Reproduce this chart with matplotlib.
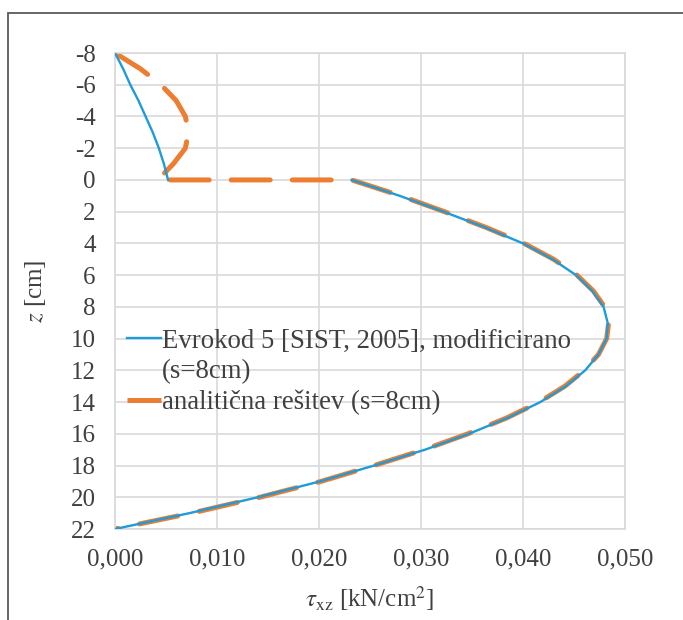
import numpy as np
import matplotlib
matplotlib.use("Agg")
import matplotlib.pyplot as plt
from matplotlib.lines import Line2D
from matplotlib.patches import Rectangle
from matplotlib.ticker import FuncFormatter, MultipleLocator

plt.rcParams['font.family'] = ['Liberation Serif', 'DejaVu Serif']
plt.rcParams['mathtext.fontset'] = 'stix'
plt.rcParams['axes.unicode_minus'] = False

# depth z [cm]; nan breaks the line between the two parts
z_ec5 = [-8, -7, -6, -5, -4, -3, -2, -1, 0, np.nan,
         0, 1, 2, 3, 4, 5, 6, 7, 8, 9, 10, 11, 12, 13, 14, 15, 16, 17, 18, 19, 20, 21, 22]
tau_ec5 = [0.0, 0.0008, 0.0015, 0.0023, 0.0030, 0.0037, 0.0043, 0.0048, 0.0052, np.nan,
           0.0232, 0.0279, 0.0322, 0.0363, 0.0400, 0.0429, 0.0452, 0.0468, 0.0479, 0.0483,
           0.0482, 0.0474, 0.0461, 0.0442, 0.0417, 0.0385, 0.0347, 0.0304, 0.0254, 0.0201,
           0.0140, 0.0073, 0.0]

z_anal = [-8, -7, -6, -5, -4, -3, -2, -1, 0,
          0, 1, 2, 3, 4, 5, 6, 7, 8, 9, 10, 11, 12, 13, 14, 15, 16, 17, 18, 19, 20, 21, 22]
tau_anal = [0.0, 0.0025, 0.0045, 0.0060, 0.0069, 0.0072, 0.0069, 0.0057, 0.0042,
            0.0232, 0.0280, 0.0323, 0.0364, 0.0401, 0.0430, 0.0453, 0.0469, 0.0480, 0.0484,
            0.0482, 0.0474, 0.0460, 0.0441, 0.0416, 0.0384, 0.0346, 0.0303, 0.0254, 0.0202,
            0.0142, 0.0075, 0.0]

lbl_ec5 = "Evrokod 5 [SIST, 2005], modificirano"
lbl_ec5_2 = "(s=8cm)"
lbl_anal = "analitična rešitev (s=8cm)"

blue = "#1f9bd7"
orange = "#ed7d31"
txt = "#404040"
grid = "#d9d9d9"

fig = plt.figure(figsize=(6.83, 6.20), dpi=100)
ax = fig.add_axes([115/683, 1-529/620, (625-115)/683, (529-53)/620])

l1, = ax.plot(tau_ec5, z_ec5, color=blue, lw=1.7, zorder=3)
l2, = ax.plot(tau_anal, z_anal, color=orange, lw=3.6,
              dash_capstyle='round', solid_capstyle='round', zorder=2)
l2.set_dashes((7.8, 4.4))

ax.set_xlim(0, 0.05)
ax.set_ylim(22, -8)
ax.xaxis.set_major_locator(MultipleLocator(0.01))
ax.yaxis.set_major_locator(MultipleLocator(2))
ax.xaxis.set_major_formatter(FuncFormatter(lambda v, p: f"{v:.3f}".replace('.', ',')))
ax.yaxis.set_major_formatter(FuncFormatter(lambda v, p: f"{v:.0f}"))
ax.tick_params(length=0, labelsize=18, labelcolor=txt)
ax.tick_params(axis='x', pad=14)
ax.tick_params(axis='y', pad=14)
ax.grid(True, color=grid, lw=1.2)
ax.set_axisbelow(True)
for s in ax.spines.values():
    s.set_color(grid)
    s.set_linewidth(1.2)

ax.set_xlabel(r"$\tau_{\mathrm{xz}}$ [kN/cm$^2$]", fontsize=18, color=txt, labelpad=10)
ax.set_ylabel(r"$z$ [cm]", fontsize=18, color=txt, labelpad=16)

# legend: the wrapped second line of the first label is an entry with an empty handle
h_blue = Line2D([], [], color=blue, lw=1.7)
h_gap = Line2D([], [], color='none')
h_orange = Line2D([], [], color=orange, lw=3.6, solid_capstyle='butt')
leg = ax.legend([h_blue, h_gap, h_orange], [lbl_ec5, lbl_ec5_2, lbl_anal],
                loc='center left', bbox_to_anchor=(0.024, 0.33), frameon=False,
                fontsize=19.3, handlelength=1.25, handletextpad=0.05, borderpad=0,
                labelspacing=0.2, borderaxespad=0)
for t in leg.get_texts():
    t.set_color(txt)

# outer frame (cropped on right and bottom in the original)
fig.patches.append(Rectangle((8/683, -0.1), 1.2, 1-13/620+0.1, transform=fig.transFigure,
                             fill=False, edgecolor="#5a5a5a", lw=1.3))

fig.savefig("out.png", dpi=100)
